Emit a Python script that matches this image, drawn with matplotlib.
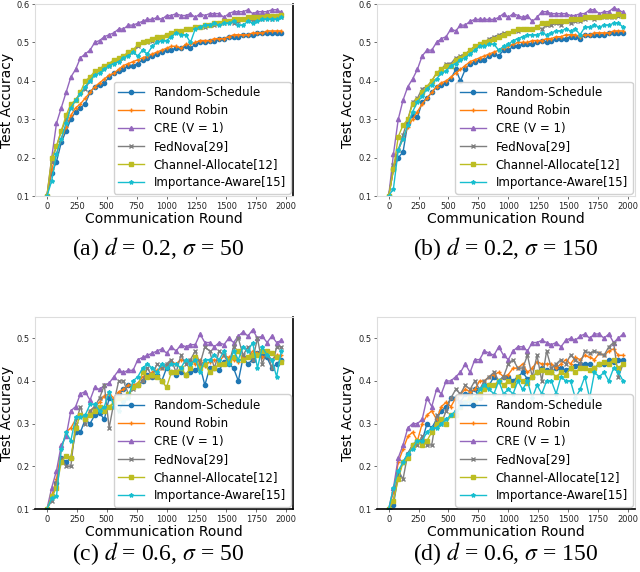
import numpy as np
import matplotlib
matplotlib.use('Agg')
import matplotlib.pyplot as plt

plt.rcParams['mathtext.fontset'] = 'stix'

rounds = np.arange(0, 2000, 40)

names = ['Random-Schedule', 'Round Robin', 'CRE (V = 1)', 'FedNova[29]',
         'Channel-Allocate[12]', 'Importance-Aware[15]']
colors = ['#1f77b4', '#ff7f0e', '#9467bd', '#7f7f7f', '#bcbd22', '#17becf']
markers = ['o', '+', '^', 'x', 's', '*']

# (a) d = 0.2, sigma = 50
a_random = [0.1, 0.16, 0.19, 0.24, 0.27, 0.30, 0.32, 0.33, 0.34, 0.37, 0.385, 0.39, 0.395, 0.41, 0.42, 0.425, 0.43, 0.44, 0.44, 0.445,
            0.455, 0.46, 0.465, 0.47, 0.475, 0.48, 0.48, 0.485, 0.485, 0.49, 0.485, 0.495, 0.50, 0.50, 0.505, 0.505, 0.51, 0.51, 0.515, 0.515,
            0.515, 0.52, 0.52, 0.52, 0.525, 0.525, 0.525, 0.525, 0.525, 0.525]
a_rr = [0.1, 0.17, 0.21, 0.25, 0.28, 0.31, 0.33, 0.34, 0.355, 0.37, 0.385, 0.395, 0.405, 0.415, 0.42, 0.43, 0.44, 0.445, 0.45, 0.455,
        0.46, 0.465, 0.47, 0.475, 0.48, 0.485, 0.49, 0.49, 0.485, 0.495, 0.495, 0.50, 0.505, 0.505, 0.505, 0.51, 0.51, 0.51, 0.515, 0.52,
        0.52, 0.52, 0.52, 0.525, 0.525, 0.525, 0.53, 0.53, 0.53, 0.53]
a_cre = [0.1, 0.2, 0.29, 0.33, 0.37, 0.41, 0.43, 0.46, 0.47, 0.48, 0.50, 0.505, 0.515, 0.52, 0.525, 0.535, 0.535, 0.545, 0.545, 0.55,
         0.555, 0.56, 0.56, 0.565, 0.56, 0.57, 0.57, 0.575, 0.57, 0.57, 0.575, 0.565, 0.575, 0.57, 0.575, 0.575, 0.575, 0.565, 0.575, 0.58,
         0.58, 0.58, 0.585, 0.575, 0.58, 0.58, 0.58, 0.585, 0.585, 0.578]
a_fednova = [0.1, 0.19, 0.23, 0.27, 0.30, 0.33, 0.35, 0.37, 0.38, 0.40, 0.42, 0.43, 0.44, 0.44, 0.45, 0.455, 0.46, 0.47, 0.475, 0.49,
             0.50, 0.50, 0.505, 0.51, 0.515, 0.52, 0.525, 0.53, 0.53, 0.535, 0.535, 0.54, 0.54, 0.54, 0.545, 0.545, 0.55, 0.55, 0.555, 0.55,
             0.555, 0.56, 0.56, 0.555, 0.56, 0.56, 0.565, 0.56, 0.565, 0.565]
a_channel = [0.1, 0.2, 0.23, 0.27, 0.31, 0.34, 0.35, 0.37, 0.40, 0.41, 0.425, 0.43, 0.44, 0.445, 0.455, 0.46, 0.465, 0.475, 0.48, 0.495,
             0.50, 0.505, 0.51, 0.515, 0.515, 0.52, 0.525, 0.53, 0.53, 0.535, 0.535, 0.54, 0.54, 0.545, 0.545, 0.55, 0.55, 0.555, 0.555, 0.56,
             0.56, 0.56, 0.565, 0.565, 0.565, 0.565, 0.57, 0.57, 0.57, 0.572]
a_importance = [0.1, 0.14, 0.21, 0.25, 0.29, 0.33, 0.35, 0.365, 0.385, 0.40, 0.415, 0.42, 0.43, 0.44, 0.445, 0.45, 0.46, 0.465, 0.475, 0.465,
                0.48, 0.47, 0.49, 0.50, 0.505, 0.505, 0.515, 0.525, 0.52, 0.52, 0.50, 0.535, 0.54, 0.545, 0.545, 0.55, 0.545, 0.55, 0.55, 0.555,
                0.545, 0.545, 0.555, 0.55, 0.555, 0.56, 0.56, 0.56, 0.56, 0.565]

# (b) d = 0.2, sigma = 150
b_random = [0.1, 0.17, 0.2, 0.215, 0.29, 0.31, 0.305, 0.345, 0.355, 0.37, 0.385, 0.39, 0.395, 0.405, 0.43, 0.40, 0.43, 0.445, 0.45, 0.455,
            0.455, 0.465, 0.47, 0.465, 0.48, 0.48, 0.49, 0.49, 0.495, 0.495, 0.495, 0.50, 0.505, 0.50, 0.505, 0.51, 0.51, 0.51, 0.515, 0.515,
            0.51, 0.52, 0.52, 0.52, 0.52, 0.52, 0.525, 0.525, 0.525, 0.525]
b_rr = [0.1, 0.17, 0.22, 0.25, 0.28, 0.30, 0.32, 0.34, 0.355, 0.37, 0.385, 0.395, 0.40, 0.41, 0.42, 0.43, 0.44, 0.45, 0.455, 0.46,
        0.465, 0.47, 0.475, 0.48, 0.485, 0.49, 0.495, 0.50, 0.50, 0.50, 0.505, 0.505, 0.505, 0.51, 0.51, 0.515, 0.515, 0.52, 0.52, 0.52,
        0.515, 0.52, 0.52, 0.525, 0.525, 0.525, 0.525, 0.53, 0.53, 0.53]
b_cre = [0.1, 0.21, 0.30, 0.35, 0.385, 0.405, 0.43, 0.465, 0.48, 0.48, 0.50, 0.51, 0.515, 0.535, 0.53, 0.545, 0.545, 0.555, 0.56, 0.56,
         0.56, 0.56, 0.56, 0.565, 0.575, 0.565, 0.575, 0.57, 0.565, 0.57, 0.555, 0.565, 0.58, 0.58, 0.575, 0.575, 0.575, 0.575, 0.57, 0.57,
         0.575, 0.575, 0.585, 0.585, 0.575, 0.58, 0.58, 0.59, 0.585, 0.578]
b_fednova = [0.1, 0.18, 0.22, 0.26, 0.30, 0.345, 0.355, 0.38, 0.385, 0.40, 0.42, 0.43, 0.445, 0.445, 0.46, 0.465, 0.47, 0.48, 0.49, 0.495,
             0.50, 0.51, 0.515, 0.52, 0.525, 0.525, 0.53, 0.53, 0.535, 0.535, 0.535, 0.54, 0.535, 0.545, 0.545, 0.55, 0.545, 0.555, 0.55, 0.555,
             0.555, 0.56, 0.565, 0.56, 0.565, 0.565, 0.565, 0.565, 0.57, 0.57]
b_channel = [0.1, 0.17, 0.255, 0.285, 0.30, 0.34, 0.35, 0.37, 0.385, 0.40, 0.42, 0.43, 0.44, 0.44, 0.455, 0.46, 0.47, 0.48, 0.49, 0.495,
             0.50, 0.505, 0.51, 0.515, 0.52, 0.525, 0.53, 0.535, 0.535, 0.535, 0.535, 0.54, 0.55, 0.55, 0.555, 0.555, 0.555, 0.555, 0.56, 0.56,
             0.56, 0.565, 0.565, 0.565, 0.565, 0.57, 0.57, 0.57, 0.575, 0.57]
b_importance = [0.1, 0.12, 0.22, 0.25, 0.285, 0.32, 0.345, 0.36, 0.38, 0.39, 0.405, 0.42, 0.425, 0.44, 0.445, 0.455, 0.46, 0.47, 0.48, 0.49,
                0.49, 0.495, 0.495, 0.48, 0.49, 0.495, 0.505, 0.51, 0.515, 0.52, 0.52, 0.52, 0.525, 0.52, 0.525, 0.53, 0.53, 0.535, 0.53, 0.535,
                0.52, 0.54, 0.54, 0.545, 0.54, 0.545, 0.545, 0.55, 0.55, 0.54]

# (c) d = 0.6, sigma = 50
c_random = [0.1, 0.13, 0.16, 0.22, 0.21, 0.22, 0.28, 0.28, 0.31, 0.30, 0.32, 0.325, 0.31, 0.36, 0.355, 0.37, 0.38, 0.39, 0.385, 0.39,
            0.40, 0.415, 0.41, 0.415, 0.40, 0.43, 0.42, 0.415, 0.42, 0.415, 0.42, 0.425, 0.435, 0.39, 0.43, 0.43, 0.425, 0.445, 0.44, 0.43,
            0.40, 0.455, 0.44, 0.45, 0.465, 0.46, 0.455, 0.43, 0.44, 0.45]
c_rr = [0.1, 0.13, 0.17, 0.24, 0.28, 0.29, 0.31, 0.32, 0.31, 0.33, 0.34, 0.35, 0.365, 0.37, 0.36, 0.375, 0.38, 0.39, 0.39, 0.395,
        0.41, 0.41, 0.42, 0.425, 0.43, 0.435, 0.445, 0.44, 0.45, 0.445, 0.45, 0.44, 0.45, 0.435, 0.445, 0.45, 0.445, 0.46, 0.455, 0.45,
        0.445, 0.455, 0.455, 0.47, 0.465, 0.455, 0.46, 0.45, 0.46, 0.46]
c_cre = [0.1, 0.15, 0.19, 0.25, 0.27, 0.33, 0.34, 0.37, 0.375, 0.355, 0.385, 0.38, 0.39, 0.395, 0.41, 0.425, 0.42, 0.425, 0.425, 0.45,
         0.455, 0.46, 0.465, 0.47, 0.475, 0.465, 0.48, 0.47, 0.485, 0.48, 0.485, 0.485, 0.51, 0.49, 0.49, 0.48, 0.49, 0.485, 0.50, 0.49,
         0.505, 0.515, 0.505, 0.52, 0.50, 0.505, 0.49, 0.505, 0.49, 0.495]
c_fednova = [0.1, 0.12, 0.16, 0.22, 0.20, 0.20, 0.30, 0.34, 0.30, 0.33, 0.34, 0.36, 0.39, 0.29, 0.35, 0.40, 0.40, 0.37, 0.38, 0.39,
             0.40, 0.43, 0.41, 0.44, 0.43, 0.44, 0.45, 0.42, 0.46, 0.44, 0.45, 0.47, 0.44, 0.48, 0.47, 0.43, 0.47, 0.46, 0.44, 0.48,
             0.50, 0.46, 0.48, 0.45, 0.50, 0.44, 0.47, 0.43, 0.48, 0.48]
c_channel = [0.1, 0.13, 0.15, 0.21, 0.225, 0.22, 0.29, 0.32, 0.31, 0.32, 0.33, 0.34, 0.33, 0.34, 0.35, 0.36, 0.355, 0.37, 0.385, 0.39,
             0.42, 0.41, 0.415, 0.41, 0.40, 0.385, 0.42, 0.42, 0.43, 0.415, 0.43, 0.455, 0.43, 0.44, 0.42, 0.43, 0.44, 0.44, 0.45, 0.455,
             0.47, 0.45, 0.455, 0.46, 0.46, 0.47, 0.47, 0.465, 0.455, 0.445]
c_importance = [0.1, 0.125, 0.13, 0.24, 0.28, 0.26, 0.315, 0.315, 0.32, 0.345, 0.345, 0.33, 0.34, 0.375, 0.34, 0.33, 0.35, 0.36, 0.40, 0.41,
                0.43, 0.44, 0.43, 0.42, 0.44, 0.43, 0.44, 0.44, 0.43, 0.45, 0.44, 0.45, 0.42, 0.45, 0.45, 0.46, 0.45, 0.47, 0.44, 0.47,
                0.45, 0.48, 0.47, 0.49, 0.43, 0.48, 0.46, 0.45, 0.41, 0.47]

# (d) d = 0.6, sigma = 150
d_random = [0.1, 0.11, 0.18, 0.21, 0.23, 0.25, 0.26, 0.26, 0.30, 0.29, 0.31, 0.33, 0.34, 0.36, 0.36, 0.35, 0.37, 0.37, 0.38, 0.36,
            0.39, 0.39, 0.41, 0.40, 0.41, 0.41, 0.40, 0.41, 0.42, 0.405, 0.41, 0.42, 0.43, 0.425, 0.42, 0.43, 0.43, 0.425, 0.43, 0.435,
            0.44, 0.44, 0.44, 0.43, 0.44, 0.44, 0.45, 0.445, 0.45, 0.45]
d_rr = [0.1, 0.14, 0.21, 0.24, 0.27, 0.28, 0.26, 0.30, 0.32, 0.33, 0.31, 0.34, 0.35, 0.34, 0.36, 0.37, 0.38, 0.375, 0.38, 0.40,
        0.40, 0.41, 0.415, 0.42, 0.41, 0.415, 0.43, 0.43, 0.44, 0.42, 0.43, 0.445, 0.44, 0.44, 0.44, 0.43, 0.44, 0.45, 0.44, 0.455,
        0.45, 0.46, 0.455, 0.45, 0.465, 0.46, 0.47, 0.475, 0.46, 0.46]
d_cre = [0.1, 0.15, 0.22, 0.25, 0.29, 0.30, 0.30, 0.31, 0.36, 0.34, 0.38, 0.37, 0.40, 0.40, 0.41, 0.42, 0.44, 0.42, 0.45, 0.45,
         0.47, 0.465, 0.46, 0.48, 0.46, 0.45, 0.47, 0.48, 0.48, 0.47, 0.49, 0.49, 0.495, 0.49, 0.485, 0.49, 0.48, 0.495, 0.50, 0.495,
         0.505, 0.51, 0.50, 0.51, 0.51, 0.50, 0.51, 0.49, 0.50, 0.51]
d_fednova = [0.1, 0.12, 0.19, 0.17, 0.23, 0.25, 0.25, 0.27, 0.25, 0.25, 0.32, 0.30, 0.33, 0.36, 0.38, 0.37, 0.39, 0.38, 0.40, 0.38,
             0.40, 0.41, 0.42, 0.40, 0.41, 0.44, 0.45, 0.43, 0.43, 0.46, 0.41, 0.46, 0.40, 0.47, 0.43, 0.44, 0.45, 0.44, 0.46, 0.45,
             0.44, 0.47, 0.465, 0.47, 0.465, 0.46, 0.48, 0.49, 0.41, 0.44]
d_channel = [0.1, 0.12, 0.17, 0.21, 0.22, 0.25, 0.26, 0.25, 0.26, 0.28, 0.30, 0.31, 0.30, 0.32, 0.32, 0.34, 0.35, 0.36, 0.35, 0.37,
             0.38, 0.39, 0.39, 0.40, 0.39, 0.40, 0.39, 0.41, 0.40, 0.395, 0.41, 0.42, 0.425, 0.42, 0.42, 0.41, 0.42, 0.415, 0.43, 0.42,
             0.43, 0.43, 0.425, 0.43, 0.44, 0.445, 0.44, 0.45, 0.43, 0.44]
d_importance = [0.1, 0.15, 0.19, 0.21, 0.23, 0.24, 0.26, 0.26, 0.28, 0.29, 0.29, 0.30, 0.31, 0.32, 0.33, 0.34, 0.35, 0.35, 0.36, 0.38,
                0.39, 0.38, 0.37, 0.40, 0.37, 0.38, 0.37, 0.40, 0.38, 0.40, 0.36, 0.39, 0.37, 0.40, 0.40, 0.37, 0.41, 0.40, 0.40, 0.36,
                0.38, 0.41, 0.36, 0.42, 0.41, 0.42, 0.40, 0.43, 0.42, 0.40]

panels = [
    ([a_random, a_rr, a_cre, a_fednova, a_channel, a_importance], r'(a) $d$ = 0.2, $\sigma$ = 50', (0.6, [0.1, 0.2, 0.3, 0.4, 0.5, 0.6])),
    ([b_random, b_rr, b_cre, b_fednova, b_channel, b_importance], r'(b) $d$ = 0.2, $\sigma$ = 150', (0.6, [0.1, 0.2, 0.3, 0.4, 0.5, 0.6])),
    ([c_random, c_rr, c_cre, c_fednova, c_channel, c_importance], r'(c) $d$ = 0.6, $\sigma$ = 50', (0.55, [0.1, 0.2, 0.3, 0.4, 0.5])),
    ([d_random, d_rr, d_cre, d_fednova, d_channel, d_importance], r'(d) $d$ = 0.6, $\sigma$ = 150', (0.55, [0.1, 0.2, 0.3, 0.4, 0.5])),
]
positions = [[0.055, 0.657, 0.403, 0.336], [0.589, 0.657, 0.403, 0.336],
             [0.055, 0.110, 0.403, 0.336], [0.589, 0.110, 0.403, 0.336]]
caption_x = [0.247, 0.79, 0.247, 0.79]
caption_y = [0.566, 0.566, 0.033, 0.033]
dark_spines = [['right'], [], ['right', 'bottom'], ['bottom']]

fig = plt.figure(figsize=(6.4, 5.72), dpi=100)

for k, (series, caption, (ytop, yticks)) in enumerate(panels):
    ax = fig.add_axes(positions[k])
    for vals, name, c, m in zip(series, names, colors, markers):
        ax.plot(rounds, vals, color=c, marker=m, markersize=3, lw=1, label=name)
    ax.set_xlim(-98, 2058)
    ax.set_ylim(0.1, ytop)
    ax.set_xticks(range(0, 2001, 250))
    ax.set_yticks(yticks)
    ax.tick_params(labelsize=6, length=2, width=0.6, color='#555555', pad=2, labelcolor='#222222')
    for side, sp in ax.spines.items():
        if side in dark_spines[k]:
            sp.set_color('black'); sp.set_linewidth(1.2)
        else:
            sp.set_color('#dddddd'); sp.set_linewidth(0.8)
    ax.set_xlabel('Communication Round', fontsize=10, labelpad=1)
    ax.set_ylabel('Test Accuracy', fontsize=10, labelpad=2)
    ax.legend(loc='lower right', fontsize=8.5, borderaxespad=0.2, handlelength=2.2,
              labelspacing=0.42, framealpha=0.9)
    fig.text(caption_x[k], caption_y[k], caption, ha='center', va='center',
             fontsize=17, family='Liberation Serif')

fig.savefig('out.png', dpi=100)
